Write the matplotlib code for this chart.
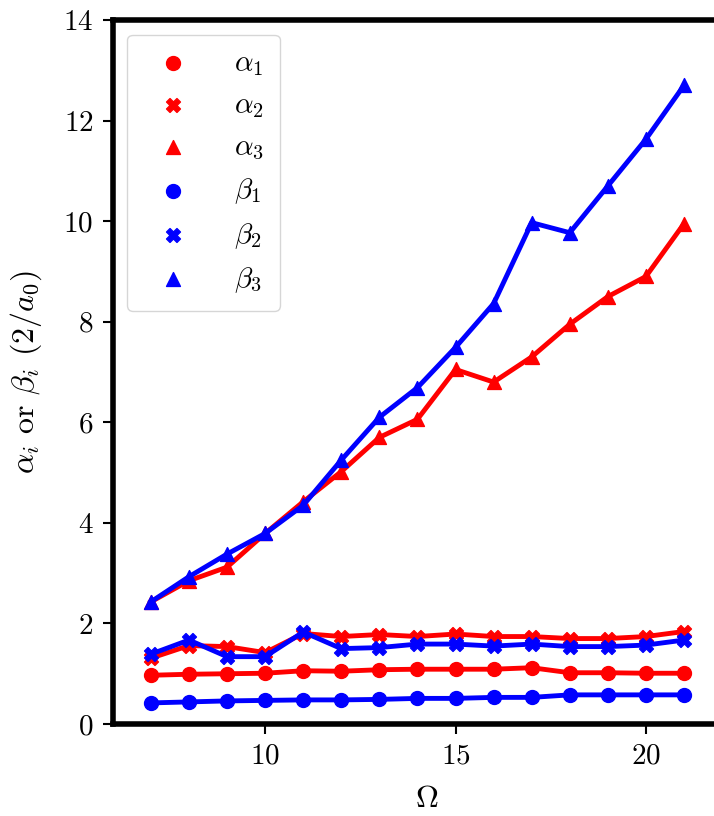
import matplotlib
matplotlib.use("Agg")
import matplotlib.pyplot as plt

plt.rcParams['font.family'] = 'serif'
plt.rcParams['font.serif'] = ['cmr10']
plt.rcParams['mathtext.fontset'] = 'cm'
plt.rcParams['axes.formatter.use_mathtext'] = True
plt.rcParams['font.size'] = 21

omega = [7, 8, 9, 10, 11, 12, 13, 14, 15, 16, 17, 18, 19, 20, 21]

alpha1 = [0.97, 0.99, 1.00, 1.01, 1.06, 1.05, 1.08, 1.09, 1.09, 1.09, 1.12, 1.02, 1.02, 1.01, 1.01]
alpha2 = [1.31, 1.56, 1.54, 1.42, 1.80, 1.74, 1.78, 1.74, 1.79, 1.74, 1.74, 1.70, 1.70, 1.74, 1.84]
alpha3 = [2.43, 2.85, 3.12, 3.79, 4.42, 5.02, 5.70, 6.06, 7.05, 6.80, 7.30, 7.95, 8.50, 8.90, 9.95]

beta1 = [0.42, 0.44, 0.46, 0.47, 0.48, 0.48, 0.49, 0.51, 0.51, 0.53, 0.53, 0.58, 0.58, 0.58, 0.58]
beta2 = [1.39, 1.67, 1.34, 1.34, 1.83, 1.50, 1.52, 1.59, 1.59, 1.55, 1.59, 1.54, 1.54, 1.57, 1.67]
beta3 = [2.43, 2.93, 3.38, 3.79, 4.35, 5.25, 6.10, 6.69, 7.49, 8.36, 9.97, 9.77, 10.70, 11.63, 12.70]

series = [
    (alpha1, 'red', 'o', r'$\alpha_1$'),
    (alpha2, 'red', 'X', r'$\alpha_2$'),
    (alpha3, 'red', '^', r'$\alpha_3$'),
    (beta1, 'blue', 'o', r'$\beta_1$'),
    (beta2, 'blue', 'X', r'$\beta_2$'),
    (beta3, 'blue', '^', r'$\beta_3$'),
]

fig = plt.figure(figsize=(7.14, 8.16), dpi=100)
# right edge sits outside the figure, so no right spine shows
ax = fig.add_axes([0.158, 0.1127, 0.880, 0.8628])

for vals, col, mk, lab in series:
    ax.plot(omega, vals, color=col, lw=3.5, zorder=2)
    ax.scatter(omega, vals, color=col, marker=mk, s=100, label=lab, zorder=2)

ax.set_xlim(6, 22.5)
ax.set_ylim(0, 14)
ax.set_xticks([10, 15, 20])
ax.set_yticks([0, 2, 4, 6, 8, 10, 12, 14])

for side in ['left', 'top', 'bottom']:
    ax.spines[side].set_linewidth(4)
ax.spines['right'].set_visible(False)
ax.tick_params(length=7, width=1.5, pad=7)

ax.set_xlabel(r'$\Omega$', fontsize=23, labelpad=11)
ax.set_ylabel(r'$\alpha_i$ or $\beta_i$ $(2/a_0)$', fontsize=23, labelpad=14)

ax.legend(loc='upper left', handletextpad=1.1, borderpad=0.55, labelspacing=0.5,
          fontsize=21)

fig.savefig('out.png', dpi=100)
